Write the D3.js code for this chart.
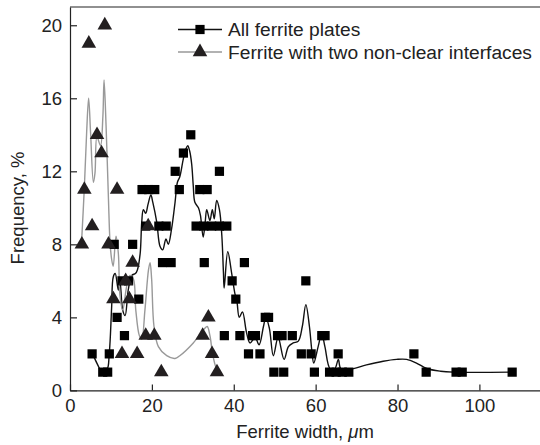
<!DOCTYPE html>
<html>
<head>
<meta charset="utf-8">
<script src="https://cdn.jsdelivr.net/npm/d3@7"></script>
<style>
  body { margin: 0; background: #fff; }
  text { font-family: "Liberation Sans", Arial, sans-serif; }
</style>
</head>
<body>
<svg id="chart" width="540" height="445"></svg>
<script>
// tick labels
var xTicks = [0, 20, 40, 60, 80, 100];
var yTicks = [0, 4, 8, 12, 16, 20];

// series names
var seriesNames = ["All ferrite plates", "Ferrite with two non-clear interfaces"];

// "All ferrite plates" markers (width in um, frequency in %)
var plateX = [8.0, 9.2, 49.8, 52.2, 59.7, 63.4, 65.0, 66.5, 68.1, 87.0, 94.3, 95.8, 108.0,
  5.4, 9.6, 43.6, 46.4, 56.5, 58.9, 65.5, 84.0,
  13.3, 37.7, 41.5, 44.6, 45.3, 50.7, 51.8, 54.3, 61.5, 62.3,
  11.5, 47.7, 48.5,
  16.8, 40.5,
  12.7, 14.3, 39.6, 57.6,
  22.6, 24.7, 32.8, 42.6,
  10.8, 15.3,
  18.5, 21.7, 23.5, 30.8, 32.7, 34.6, 36.5, 38.3,
  17.6, 19.2, 20.7, 26.7, 31.7, 33.5,
  25.7, 36.5,
  27.7,
  29.5];
var plateY = [1, 1, 1, 1, 1, 1, 1, 1, 1, 1, 1, 1, 1,
  2, 2, 2, 2, 2, 2, 2, 2,
  3, 3, 3, 3, 3, 3, 3, 3, 3, 3,
  4, 4, 4,
  5, 5,
  6, 6, 6, 6,
  7, 7, 7, 7,
  8, 8,
  9, 9, 9, 9, 9, 9, 9, 9,
  11, 11, 11, 11, 11, 11,
  12, 12,
  13,
  14];

// "two non-clear interfaces" markers
var twoX = [2.9, 3.5, 4.6, 5.4, 6.6, 7.7, 8.5, 9.4, 10.6, 11.5, 12.7, 13.6, 14.5, 15.3, 16.4,
  18.5, 19.1, 20.6, 22.3, 32.4, 33.8, 34.7, 35.9];
var twoY = [8, 11, 19, 9, 14, 13, 20, 8, 5, 11, 2, 6, 5, 7, 2, 3, 9, 3, 1, 3, 4, 2, 1];

// smoothed curves
var plateCurveX = [5.52, 6.77, 7.45, 9.0, 9.58, 10.16, 10.55, 11.04, 11.81, 12.2, 12.87, 13.46, 14.23,
  15.1, 15.97, 16.46, 17.14, 17.52, 17.91, 18.49, 19.07, 19.75, 20.23, 21.2, 21.98, 22.65, 23.43,
  24.01, 24.78, 25.66, 26.24, 26.82, 27.69, 28.27, 28.75, 29.24, 29.72, 30.11, 30.5, 31.37, 31.85,
  32.53, 33.01, 33.4, 34.18, 34.76, 35.24, 35.82, 36.5, 37.08, 37.47, 37.66, 38.53, 39.5, 40.28,
  40.76, 41.34, 42.12, 43.09, 43.96, 45.22, 46.18, 47.25, 47.83, 48.7, 49.67, 50.83, 52.29, 53.35,
  54.51, 55.77, 56.74, 57.61, 58.48, 59.06, 59.54, 60.61, 61.48, 62.26, 63.52, 64.68, 65.55, 66.13,
  68.26, 72.42, 76.49, 79.78, 82.21, 84.62, 87.14, 90.53, 93.63, 107.96];
var plateCurveY = [2, 1.4, 1.15, 1.15, 2, 4.5, 6.2, 6.4, 5.5, 6.0, 4.4, 4.1, 5.5,
  6.3, 6.4, 6.6, 7.5, 9.2, 9.9, 9.7, 10.2, 10.7, 10.3, 9.2, 7.9, 7.7, 8.3,
  8.0, 8.8, 10.3, 11.4, 11.7, 12.7, 13.2, 13.4, 13.1, 12.4, 11.2, 10.3, 10.0, 9.6,
  8.4, 9.2, 9.9, 9.3, 9.9, 9.4, 10.4, 9.9, 8.5, 6.5, 5.6, 7.6, 6.4, 5.3,
  4.9, 4.0, 4.3, 3.2, 2.6, 2.9, 2.5, 3.5, 4.0, 3.4, 1.9, 2.9, 1.7, 2.4,
  2.6, 2.7, 3.5, 4.7, 3.5, 2.2, 1.5, 2.4, 3.1, 2.4, 1.2, 1.2, 1.7, 1.2,
  1.15, 1.4, 1.6, 1.7, 1.7, 1.5, 1.2, 1.05, 1.0, 1.0];

var twoCurveX = [2.8, 3.48, 4.06, 4.55, 5.03, 5.71, 6.1, 6.58, 7.45, 8.03, 8.32, 8.81, 9.39, 9.78,
  10.16, 10.55, 11.23, 11.81, 12.2, 12.87, 13.84, 14.62, 15.49, 16.07, 16.94, 17.52, 18.3, 19.17,
  19.56, 19.94, 20.52, 21.59, 23.62, 25.66, 26.82, 30.11, 32.53, 33.5, 34.18, 34.76, 35.44, 36.02];
var twoCurveY = [8, 11, 14.1, 16, 14.1, 11.4, 11.9, 13.9, 13.4, 15, 17, 14.5, 10.5, 8.1,
  7.2, 6.8, 8.45, 7.5, 5.2, 4.4, 5.7, 6.3, 6.1, 4.4, 3.0, 2.8, 4.4, 6.6,
  7.0, 6.1, 3.5, 2.4, 1.9, 1.75, 1.9, 2.6, 3.3, 3.5, 3.0, 2.1, 1.4, 1.05];

var svg = d3.select("#chart");

var x = d3.scaleLinear().domain([0, 114.8]).range([70, 540]);
var y = d3.scaleLinear().domain([0, 21]).range([390.4, 7]);

// frame: left axis, bottom axis, top line
svg.append("g").attr("transform", "translate(0," + y(0) + ")")
  .call(d3.axisBottom(x).tickValues(xTicks).tickSizeInner(-6).tickSizeOuter(0).tickPadding(8))
  .call(g => g.selectAll("text").attr("font-size", 18.5).attr("fill", "#222"));
svg.append("g").attr("transform", "translate(" + x(0) + ",0)")
  .call(d3.axisLeft(y).tickValues(yTicks).tickSizeInner(-7).tickSizeOuter(0).tickPadding(8))
  .call(g => g.selectAll("text").attr("font-size", 18.5).attr("fill", "#222"));
svg.selectAll(".domain, .tick line").attr("stroke", "#222").attr("stroke-width", 1.2);
svg.append("line").attr("x1", x(0)).attr("x2", 540).attr("y1", y(21)).attr("y2", y(21))
  .attr("stroke", "#222").attr("stroke-width", 1.2);

// curves
var line = d3.line().x(d => x(d[0])).y(d => y(d[1])).curve(d3.curveCatmullRom.alpha(0.5));
svg.append("path").datum(d3.zip(plateCurveX, plateCurveY))
  .attr("d", line).attr("fill", "none").attr("stroke", "#111").attr("stroke-width", 1.4);
svg.append("path").datum(d3.zip(twoCurveX, twoCurveY))
  .attr("d", line).attr("fill", "none").attr("stroke", "#999").attr("stroke-width", 1.4);

// markers
var sq = d3.symbol().type(d3.symbolSquare).size(85);
var tri = d3.symbol().type(d3.symbolTriangle).size(92);
svg.append("g").selectAll("path").data(d3.zip(plateX, plateY)).join("path")
  .attr("transform", d => "translate(" + x(d[0]) + "," + y(d[1]) + ")")
  .attr("d", sq).attr("fill", "#000");
svg.append("g").selectAll("path").data(d3.zip(twoX, twoY)).join("path")
  .attr("transform", d => "translate(" + x(d[0]) + "," + y(d[1]) + ")")
  .attr("d", tri).attr("fill", "#231f20");

// legend
var legend = svg.append("g");
[0, 1].forEach(function (i) {
  var ly = 29.5 + i * 22.5;
  legend.append("line").attr("x1", 178).attr("x2", 222).attr("y1", ly).attr("y2", ly)
    .attr("stroke", i ? "#999" : "#111").attr("stroke-width", 1.4);
  legend.append("path").attr("transform", "translate(200," + ly + ")")
    .attr("d", i ? tri : sq).attr("fill", i ? "#231f20" : "#000");
  legend.append("text").attr("x", 228).attr("y", ly + 6.5)
    .attr("font-size", 19.2).attr("fill", "#222").text(seriesNames[i]);
});

// axis titles
var xt = svg.append("text").attr("x", 305).attr("y", 438).attr("text-anchor", "middle")
  .attr("font-size", 18.5).attr("fill", "#222");
xt.append("tspan").text("Ferrite width, ");
xt.append("tspan").attr("font-style", "italic").text("\u03bc");
xt.append("tspan").text("m");

svg.append("text").attr("transform", "translate(24,208) rotate(-90)")
  .attr("text-anchor", "middle").attr("font-size", 18.5).attr("fill", "#222")
  .text("Frequency, %");
</script>
</body>
</html>
